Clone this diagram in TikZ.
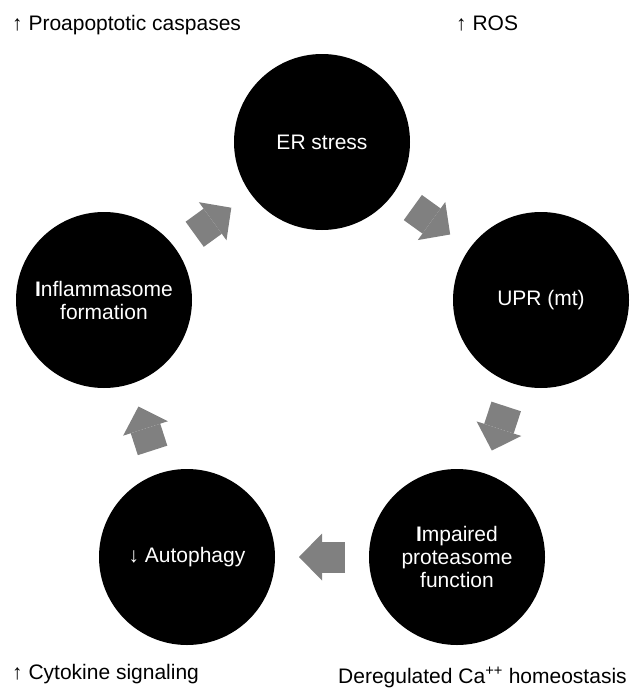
\documentclass[tikz,border=0pt]{standalone}
\usepackage{fontspec}
\setmainfont{Liberation Sans}
\usetikzlibrary{arrows.meta}

\tikzset{
  stage/.style={circle, fill=black, text=white, minimum size=176pt, inner sep=0pt,
    outer sep=0pt, align=center, font=\fontsize{21}{23}\selectfont},
  cyclearrow/.style={draw=gray, line width=31pt,
    -{Triangle[length=23pt, width=47pt, line width=0pt]},
    shorten <=24pt, shorten >=24pt},
  note/.style={anchor=base west, inner sep=0pt, font=\fontsize{21}{23}\selectfont}
}

\begin{document}
\begin{tikzpicture}[x=1pt, y=-1pt]
  \useasboundingbox (0,0) rectangle (630,688);

  % the five stages of the cycle
  \node[stage] (er)    at (322,142) {ER stress};
  \node[stage] (upr)   at (541,300) {UPR (mt)};
  \node[stage] (prot)  at (457,557) {\textbf{I}mpaired\\proteasome\\function};
  \node[stage] (autop) at (187,557) {↓ Autophagy};
  \node[stage] (infl)  at (104,300) {\textbf{I}nflammasome\\formation};

  % block arrows round the cycle
  \draw[cyclearrow] (er) -- (upr);
  \draw[cyclearrow] (upr) -- (prot);
  \draw[cyclearrow] (prot) -- (autop);
  \draw[cyclearrow] (autop) -- (infl);
  \draw[cyclearrow] (infl) -- (er);

  % side effects
  \node[note] (casp) at (12,30)  {↑ Proapoptotic caspases};
  \node[note] (ros)  at (456,30) {↑ ROS};
  \node[note] (cyto) at (12,679) {↑ Cytokine signaling};
  \node[note] (calc) at (338,683) {Deregulated Ca\textsuperscript{++} homeostasis};
\end{tikzpicture}
\end{document}
